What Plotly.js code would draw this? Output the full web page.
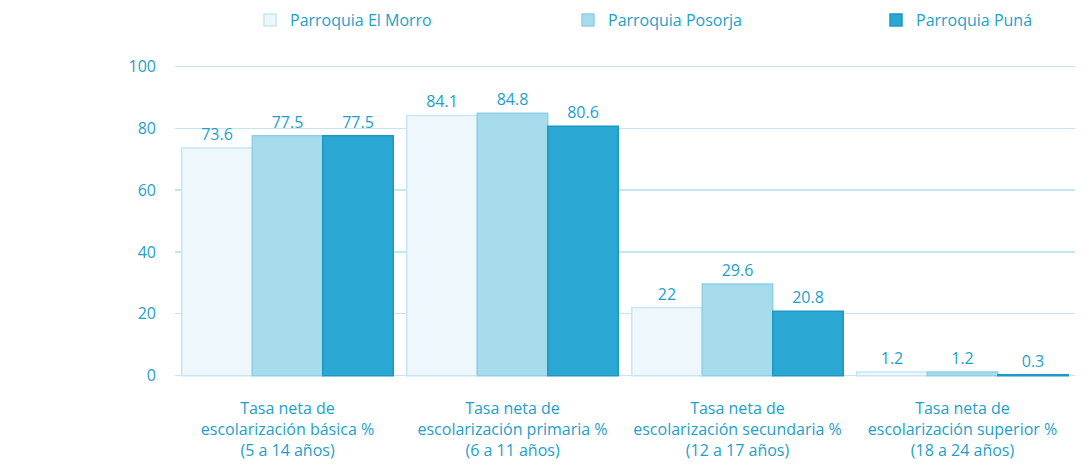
<!DOCTYPE html>
<html><head><meta charset="utf-8">
<script src="https://cdn.plot.ly/plotly-3.0.1.min.js"></script>
<style>body{margin:0;background:#fff}#c{width:1090px;height:466px}</style>
</head><body><div id="c"></div>
<script>
const categories = [
  "Tasa neta de<br>escolarización básica %<br>(5 a 14 años)",
  "Tasa neta de<br>escolarización primaria %<br>(6 a 11 años)",
  "Tasa neta de<br>escolarización secundaria %<br>(12 a 17 años)",
  "Tasa neta de<br>escolarización superior %<br>(18 a 24 años)"
];
const seriesNames = ["Parroquia El Morro", "Parroquia Posorja", "Parroquia Puná"];
const elMorro = [73.6, 84.1, 22, 1.2];
const posorja = [77.5, 84.8, 29.6, 1.2];
const puna = [77.5, 80.6, 20.8, 0.3];
const yTicks = [0, 20, 40, 60, 80, 100];

const txt = '#1d9fcb';
const fnt = 'Open Sans, Noto Sans, sans-serif';
function bar(name, y, fill, line, lg) {
  return {
    type: 'bar', name: name, x: categories, y: y, legend: lg,
    marker: {color: fill, line: {color: line, width: 1.5}},
    text: y.map(v => String(v)), textposition: 'outside', cliponaxis: false,
    textfont: {color: txt, size: 16, family: fnt}
  };
}
const data = [
  bar(seriesNames[0], elMorro, '#eef8fc', '#c6e6f2', 'legend'),
  bar(seriesNames[1], posorja, '#a6dbec', '#8fd0e6', 'legend2'),
  bar(seriesNames[2], puna, '#2aa7d2', '#1b98c4', 'legend3')
];
function lgd(x) {
  return {orientation: 'h', x: x, xanchor: 'left', y: 1.123, yanchor: 'middle',
          bgcolor: 'rgba(0,0,0,0)', font: {size: 16, color: txt}};
}
const layout = {
  width: 1090, height: 466,
  margin: {l: 175, r: 15, t: 60, b: 81, autoexpand: false},
  paper_bgcolor: '#fff', plot_bgcolor: '#fff',
  font: {family: fnt, color: txt, size: 15},
  barmode: 'group', bargap: 0.06, bargroupgap: 0,
  showlegend: true,
  legend: lgd((250 - 175) / 900),
  legend2: lgd((568 - 175) / 900),
  legend3: lgd((876 - 175) / 900),
  xaxis: {showgrid: false, zeroline: false, showline: false, ticks: '',
          ticklabelstandoff: 12, tickfont: {size: 16, color: txt}},
  yaxis: {range: [-3, 102], tickvals: yTicks, ticktext: yTicks.map(String),
          showgrid: true, gridcolor: '#c4e6f1', gridwidth: 1.2, zeroline: false,
          showline: false, ticks: '', ticklabelstandoff: 18,
          tickfont: {size: 16, color: txt}}
};
Plotly.newPlot('c', data, layout, {displayModeBar: false, staticPlot: true});
</script>
</body></html>
